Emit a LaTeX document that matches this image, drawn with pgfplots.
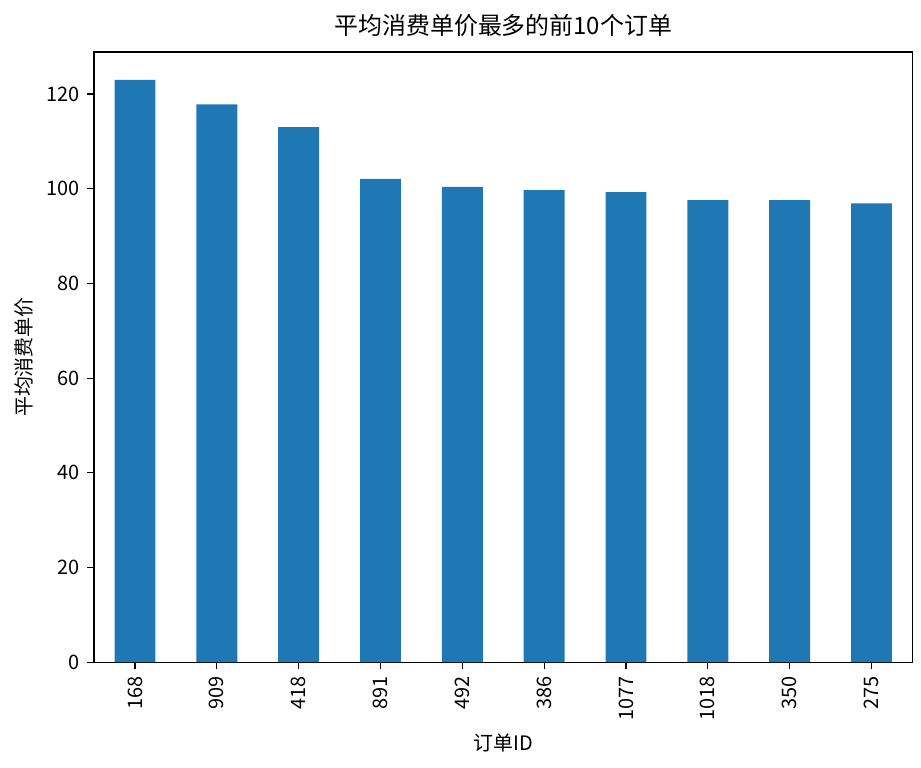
\documentclass[border=4pt]{standalone}
\usepackage{fontspec}
\setmainfont{Noto Sans CJK SC}
\usepackage{pgfplots}
\pgfplotsset{compat=1.18}
\definecolor{mplblue}{HTML}{1F77B4}
\begin{document}
\begin{tikzpicture}
\begin{axis}[
    scale only axis,
    width=409bp, height=305bp,
    xmin=-0.5, xmax=9.5,
    ymin=0, ymax=128.9,
    xtick=data,
    xticklabels={168,909,418,891,492,386,1077,1018,350,275},
    x tick label style={rotate=90, anchor=east},
    ytick={0,20,40,60,80,100,120},
    tick align=outside,
    tick pos=left,
    major tick length=3.5bp,
    tick style={black, line width=0.6pt},
    axis line style={line width=0.6pt},
    title={平均消费单价最多的前10个订单},
    title style={font=\fontsize{12}{14}\selectfont, yshift=-2pt},
    xlabel={订单ID},
    ylabel={平均消费单价},
    /pgf/number format/assume math mode=true,
    ticklabel style={font=\fontsize{10}{12}\selectfont},
    label style={font=\fontsize{10}{12}\selectfont},
]
\addplot[ybar, bar width=0.5, fill=mplblue, draw=none] coordinates {
    (0,123.0) (1,117.8) (2,113.0) (3,102.1) (4,100.4)
    (5,99.7) (6,99.3) (7,97.6) (8,97.6) (9,96.9)
};
\end{axis}
\end{tikzpicture}
\end{document}
